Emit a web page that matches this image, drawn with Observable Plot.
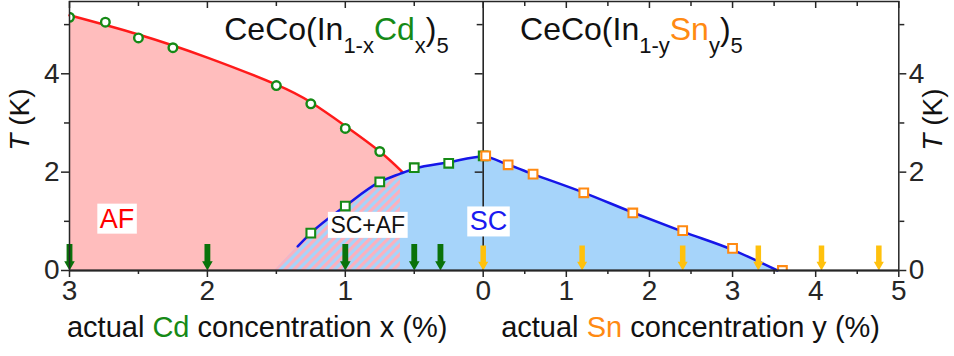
<!DOCTYPE html>
<html>
<head>
<meta charset="utf-8">
<script src="https://cdn.jsdelivr.net/npm/d3@7"></script>
<script src="https://cdn.jsdelivr.net/npm/@observablehq/plot@0.6"></script>
<style>
  html, body { margin: 0; padding: 0; background: #fff; }
</style>
</head>
<body>
<div id="chart"></div>
<script>
// ---------------- data ----------------
// CeCo(In1-xCdx)5 : Neel temperature (open circles)
const cdNeelX = [3.0, 2.74, 2.5, 2.25, 1.5, 1.25, 1.0, 0.75];
const cdNeelT = [5.15, 5.05, 4.73, 4.53, 3.76, 3.39, 2.89, 2.42];
// CeCo(In1-xCdx)5 : superconducting Tc (open squares)
const cdScX = [1.25, 1.0, 0.75, 0.5, 0.25, 0.0];
const cdScT = [0.76, 1.31, 1.80, 2.09, 2.18, 2.33];
// CeCo(In1-ySny)5 : superconducting Tc (open squares)
const snScY = [0.03, 0.3, 0.6, 1.21, 1.8, 2.4, 3.0, 3.6];
const snScT = [2.33, 2.15, 1.96, 1.58, 1.17, 0.81, 0.45, 0.0];
// guide-to-the-eye phase boundaries
const neelLineX = [3.0, 2.5, 2.0, 1.5, 1.25, 1.0, 0.75, 0.585];
const neelLineT = [5.19, 4.80, 4.33, 3.78, 3.42, 2.94, 2.42, 2.0];
const scLineCdX = [1.345, 1.25, 1.0, 0.75, 0.6, 0.5, 0.25];
const scLineCdT = [0.49, 0.76, 1.31, 1.80, 1.97, 2.07, 2.20];
const scLineSnY = [0, 0.3, 0.6, 1.2, 1.8, 2.4, 3.0, 3.54];
const scLineSnT = [2.32, 2.15, 1.96, 1.59, 1.18, 0.79, 0.42, 0.0];
const coexistStartX = 1.51;   // SC+AF region edge at T = 0
const coexistEndX = 0.6;      // SC+AF region right edge
// arrows (no transition down to lowest T)
const cdArrowX = [3, 2, 1, 0.5, 0.31];
const snArrowY = [0, 1.19, 2.4, 3.31, 4.07, 4.76];
// ticks (negative = Cd side, positive = Sn side)
const xMajorTicks = [-3, -2, -1, 0, 1, 2, 3, 4, 5];
const xMinorTicks = [-2.5, -1.5, -0.5, 0.5, 1.5, 2.5, 3.5, 4.5];
const yMajorTicks = [0, 2, 4];
const yMinorTicks = [1, 3, 5];

// ---------------- build tables ----------------
const u = x => -x; // Cd concentration drawn leftwards
const neelPts = cdNeelX.map((x, i) => ({u: u(x), T: cdNeelT[i]}));
const cdScPts = cdScX.map((x, i) => ({u: u(x), T: cdScT[i]}));
const snScPts = snScY.map((y, i) => ({u: y, T: snScT[i]}));
const neelLine = neelLineX.map((x, i) => ({u: u(x), T: neelLineT[i]}));
const scLine = [
  ...scLineCdX.map((x, i) => ({u: u(x), T: scLineCdT[i]})),
  ...scLineSnY.map((y, i) => ({u: y, T: scLineSnT[i]}))
];
const scArea = [{u: u(coexistStartX), T: 0}, ...scLine];
const hatchArea = scArea.filter(d => d.u <= u(coexistEndX) + 1e-9);

// ---------------- styling ----------------
const GREEN = "#168a16", DKGREEN = "#0a720a", ORANGE = "#ff8a12", YELLOW = "#ffc10d";
const PINK = "#ffbdbd", LIGHTBLUE = "#a6d4fa", RED = "#ff1a1a", BLUE = "#1616e8";
const HATCH_PINK = "#fcb0bd";
const AXIS = "#262626";
const X_RANGE = [69, 482.7, 898.3];
const W = 954, H = 356, MT = 1, MB = 86;
const FRAME_H = H - MT - MB;

const arrowSymbol = {
  draw(ctx, size) {
    const r = Math.sqrt(size / Math.PI);
    const hw = r, hh = 1.75 * r, sw = 0.55 * r, len = 5 * r;
    ctx.moveTo(0, 0);
    ctx.lineTo(-hw, -hh);
    ctx.lineTo(-sw, -hh);
    ctx.lineTo(-sw, -len);
    ctx.lineTo(sw, -len);
    ctx.lineTo(sw, -hh);
    ctx.lineTo(hw, -hh);
    ctx.closePath();
  }
};

const TITLE_CD = "CeCo(In1-xCdx)5";
const TITLE_SN = "CeCo(In1-ySny)5";
const XLABEL_CD = "actual Cd concentration x (%)";
const XLABEL_SN = "actual Sn concentration y (%)";
const YLABEL = "T (K)";
const intFmt = d => String(Math.abs(d));

const plot = Plot.plot({
  width: W, height: H,
  marginLeft: X_RANGE[0], marginRight: W - X_RANGE[2], marginTop: MT, marginBottom: MB,
  x: {type: "linear", domain: [-3, 0, 5], range: X_RANGE},
  y: {domain: [0, 5.47]},
  style: {fontFamily: '"Liberation Sans", Arial, Helvetica, sans-serif', fontSize: "28px", color: AXIS, background: "#fff", overflow: "visible"},
  marks: [
    Plot.areaY(neelLine, {x: "u", y: "T", fill: PINK, curve: "natural"}),
    Plot.areaY(scArea, {x: "u", y: "T", fill: LIGHTBLUE, curve: "monotone-x"}),
    Plot.areaY(hatchArea, {x: "u", y: "T", fill: "url(#hatch)", curve: "monotone-x"}),
    Plot.ruleX([0], {stroke: AXIS, strokeWidth: 1.6}),
    Plot.tickY(yMajorTicks.filter(d => d > 0), {y: d => d, stroke: AXIS, strokeWidth: 1.5,
      insetLeft: X_RANGE[1] - 8 - X_RANGE[0], insetRight: X_RANGE[2] - X_RANGE[1]}),
    Plot.tickY(yMinorTicks, {y: d => d, stroke: AXIS, strokeWidth: 1.5,
      insetLeft: X_RANGE[1] - 6 - X_RANGE[0], insetRight: X_RANGE[2] - X_RANGE[1]}),
    Plot.lineY(neelLine, {x: "u", y: "T", stroke: RED, strokeWidth: 2.5, curve: "natural"}),
    Plot.lineY(scLine, {x: "u", y: "T", stroke: BLUE, strokeWidth: 2.5, curve: "monotone-x"}),
    Plot.dot(cdArrowX, {x: d => u(d), y: () => 0, symbol: arrowSymbol, r: 5.3, fill: DKGREEN, stroke: "none"}),
    Plot.dot(snArrowY, {x: d => d, y: () => 0, symbol: arrowSymbol, r: 5, fill: YELLOW, stroke: "none"}),
    Plot.dot(neelPts, {x: "u", y: "T", r: 4.3, fill: "white", stroke: GREEN, strokeWidth: 2.4, clip: true}),
    Plot.dot(cdScPts, {x: "u", y: "T", symbol: "square", r: 4.9, fill: "white", stroke: GREEN, strokeWidth: 2.1, clip: true}),
    Plot.dot(snScPts, {x: "u", y: "T", symbol: "square", r: 4.9, fill: "white", stroke: ORANGE, strokeWidth: 2.1, clip: true}),
    Plot.frame({stroke: AXIS, strokeWidth: 1.5}),
    Plot.ruleY([0], {stroke: AXIS, strokeWidth: 2.2}),
    Plot.tickX(xMajorTicks, {x: d => d, stroke: AXIS, strokeWidth: 1.5, insetBottom: FRAME_H - 7}),
    Plot.tickX(xMinorTicks, {x: d => d, stroke: AXIS, strokeWidth: 1.5, insetBottom: FRAME_H - 5}),
    Plot.axisX({ticks: xMajorTicks, anchor: "bottom", tickSize: 7, tickPadding: 3, strokeWidth: 1.5,
      tickFormat: intFmt, fontSize: 28, label: null}),
    Plot.axisX({ticks: xMinorTicks, anchor: "bottom", tickSize: 4, strokeWidth: 1.5, tickFormat: () => "", label: null}),
    Plot.axisY({ticks: yMajorTicks, anchor: "left", tickSize: 8, tickPadding: 2, strokeWidth: 1.5, tickFormat: intFmt, fontSize: 28, label: null}),
    Plot.axisY({ticks: yMinorTicks, anchor: "left", tickSize: 5, strokeWidth: 1.5, tickFormat: () => "", label: null}),
    Plot.axisY({ticks: yMajorTicks, anchor: "right", tickSize: 7, tickPadding: 3, strokeWidth: 1.5, tickFormat: intFmt, fontSize: 28, label: null}),
    Plot.axisY({ticks: yMinorTicks, anchor: "right", tickSize: 5, strokeWidth: 1.5, tickFormat: () => "", label: null}),
    // titles
    Plot.text([TITLE_CD], {x: () => u(1.878), y: () => 4.90, text: d => d, textAnchor: "start", lineAnchor: "middle", fontSize: 32, fill: "#111"}),
    Plot.text([TITLE_SN], {x: () => 0.443, y: () => 4.90, text: d => d, textAnchor: "start", lineAnchor: "middle", fontSize: 32, fill: "#111"}),
    // phase labels
    Plot.text(["AF"], {x: () => u(2.655), y: () => 1.047, text: d => d, fontSize: 27, fill: "#ff0000"}),
    Plot.text(["SC+AF"], {x: () => u(0.837), y: () => 0.915, text: d => d, fontSize: 23, fill: "#111"}),
    Plot.text(["SC"], {x: () => 0.064, y: () => 0.99, text: d => d, fontSize: 27, fill: "#1a1af0"}),
    // axis labels
    Plot.text([XLABEL_CD], {x: () => u(1.639), frameAnchor: "bottom", lineAnchor: "middle", textAnchor: "middle", dy: 57.7, text: d => d, fontSize: 29, fill: "#111"}),
    Plot.text([XLABEL_SN], {x: () => 2.495, frameAnchor: "bottom", lineAnchor: "middle", textAnchor: "middle", dy: 57.7, text: d => d, fontSize: 29, fill: "#111"}),
    Plot.text([YLABEL], {y: () => 3.07, frameAnchor: "left", textAnchor: "middle", lineAnchor: "middle", dx: -49, rotate: -90, text: d => d, fontSize: 28, fill: "#111"}),
    Plot.text([YLABEL], {y: () => 3.07, frameAnchor: "right", textAnchor: "middle", lineAnchor: "middle", dx: 34, rotate: -90, text: d => d, fontSize: 28, fill: "#111"})
  ]
});

document.getElementById("chart").appendChild(plot);

// ---------------- post-processing: pattern, rich text, label boxes ----------------
const NS = "http://www.w3.org/2000/svg";
const defs = document.createElementNS(NS, "defs");
defs.innerHTML = `<pattern id="hatch" patternUnits="userSpaceOnUse" width="6.4" height="6.4" patternTransform="rotate(45)">
  <rect width="6.4" height="6.4" fill="${LIGHTBLUE}"></rect>
  <rect width="3.2" height="6.4" fill="${HATCH_PINK}"></rect>
</pattern>`;
plot.insertBefore(defs, plot.firstChild);

function rich(plain, segs, subShift) {
  plot.querySelectorAll("text").forEach(t => {
    if (t.textContent !== plain) return;
    t.textContent = "";
    let shift = 0;
    for (const s of segs) {
      const ts = document.createElementNS(NS, "tspan");
      ts.textContent = s.t;
      if (s.fill) ts.setAttribute("fill", s.fill);
      if (s.italic) ts.setAttribute("font-style", "italic");
      const target = s.sub ? subShift : 0;
      if (s.sub) ts.setAttribute("font-size", s.sub);
      if (target !== shift) ts.setAttribute("dy", target - shift);
      shift = target;
      t.appendChild(ts);
    }
  });
}
rich(TITLE_CD, [{t: "CeCo(In"}, {t: "1-x", sub: 22}, {t: "Cd", fill: GREEN}, {t: "x", sub: 22}, {t: ")"}, {t: "5", sub: 22}], 13.5);
rich(TITLE_SN, [{t: "CeCo(In"}, {t: "1-y", sub: 22}, {t: "Sn", fill: ORANGE}, {t: "y", sub: 22}, {t: ")"}, {t: "5", sub: 22}], 13.5);
rich(XLABEL_CD, [{t: "actual "}, {t: "Cd", fill: GREEN}, {t: " concentration x (%)"}], 0);
rich(XLABEL_SN, [{t: "actual "}, {t: "Sn", fill: ORANGE}, {t: " concentration y (%)"}], 0);
rich(YLABEL, [{t: "T", italic: true}, {t: " (K)"}], 0);

plot.querySelectorAll("text").forEach(t => {
  if (!["AF", "SC", "SC+AF"].includes(t.textContent)) return;
  const bb = t.getBBox();
  const r = document.createElementNS(NS, "rect");
  r.setAttribute("x", bb.x - 2.5);
  r.setAttribute("y", bb.y);
  r.setAttribute("width", bb.width + 5);
  r.setAttribute("height", bb.height);
  r.setAttribute("fill", "#fff");
  r.setAttribute("stroke", "none");
  if (t.getAttribute("transform")) r.setAttribute("transform", t.getAttribute("transform"));
  t.parentNode.insertBefore(r, t);
});
</script>
</body>
</html>
